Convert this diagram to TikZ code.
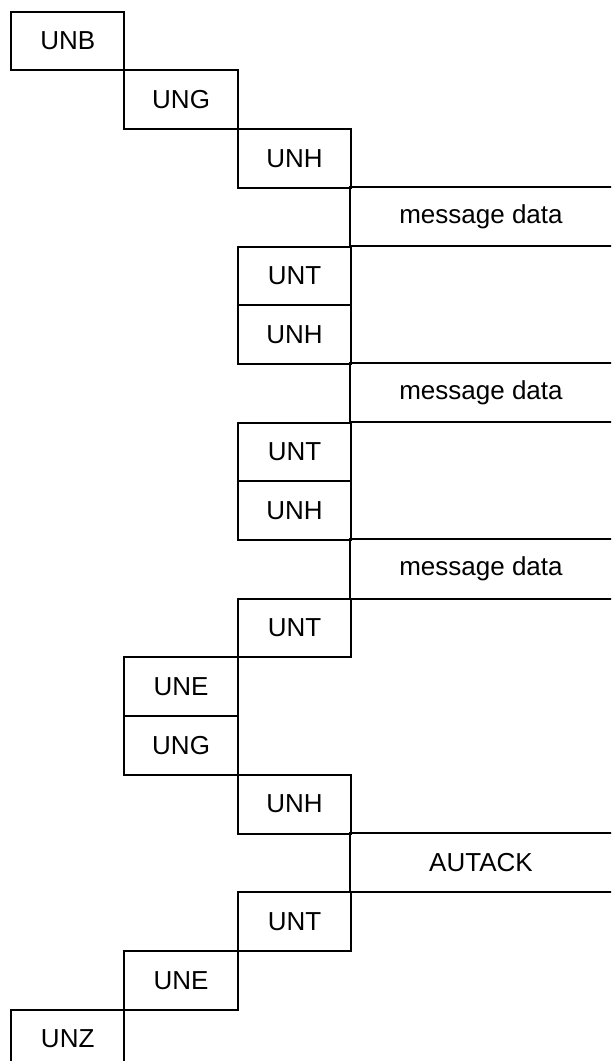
\documentclass[tikz,border=0pt]{standalone}
\usepackage{fontspec}
\setmainfont{Liberation Sans}
\tikzset{
  seg/.style={draw,line width=1pt,minimum width=56.7pt,minimum height=29.35pt,
    inner sep=0pt,anchor=north west,font=\fontsize{13}{15.6}\selectfont},
  msgbox/.style={minimum width=130.4pt,minimum height=29.35pt,
    inner sep=0pt,anchor=north west,font=\fontsize{13}{15.6}\selectfont},
  msgedge/.style={line width=1pt}
}

\begin{document}
\begin{tikzpicture}[x=0.5pt,y=-0.5pt]

\useasboundingbox (0,0) rectangle (611,1061);
\clip (0,0) rectangle (611,1061);

% Interchange and group headers
\node[seg] (unb) at (10.0, 10.7) {UNB};
\node[seg] (ung1) at (123.4, 69.4) {UNG};

% First message
\node[seg] (unh1) at (236.8, 128.1) {UNH};
\node[msgbox] (data1) at (350.2, 186.8) {message data};
\node[seg] (unt1) at (236.8, 245.5) {UNT};

% Second message
\node[seg] (unh2) at (236.8, 304.2) {UNH};
\node[msgbox] (data2) at (350.2, 362.9) {message data};
\node[seg] (unt2) at (236.8, 421.6) {UNT};

% Third message
\node[seg] (unh3) at (236.8, 480.3) {UNH};
\node[msgbox] (data3) at (350.2, 539.0) {message data};
\node[seg] (unt3) at (236.8, 597.7) {UNT};

% Group trailer, next group
\node[seg] (une1) at (123.4, 656.4) {UNE};
\node[seg] (ung2) at (123.4, 715.1) {UNG};

% Acknowledgement message
\node[seg] (unh4) at (236.8, 773.8) {UNH};
\node[msgbox] (autack) at (350.2, 832.5) {AUTACK};
\node[seg] (unt4) at (236.8, 891.2) {UNT};

% Trailers
\node[seg] (une2) at (123.4, 949.9) {UNE};
\node[seg] (unz) at (10.0, 1008.6) {UNZ};

% Message bodies, open to the right
\draw[msgedge] (data1.north east) -- (data1.north west) -- (data1.south west) -- (data1.south east);
\draw[msgedge] (data2.north east) -- (data2.north west) -- (data2.south west) -- (data2.south east);
\draw[msgedge] (data3.north east) -- (data3.north west) -- (data3.south west) -- (data3.south east);
\draw[msgedge] (autack.north east) -- (autack.north west) -- (autack.south west) -- (autack.south east);

\end{tikzpicture}
\end{document}
